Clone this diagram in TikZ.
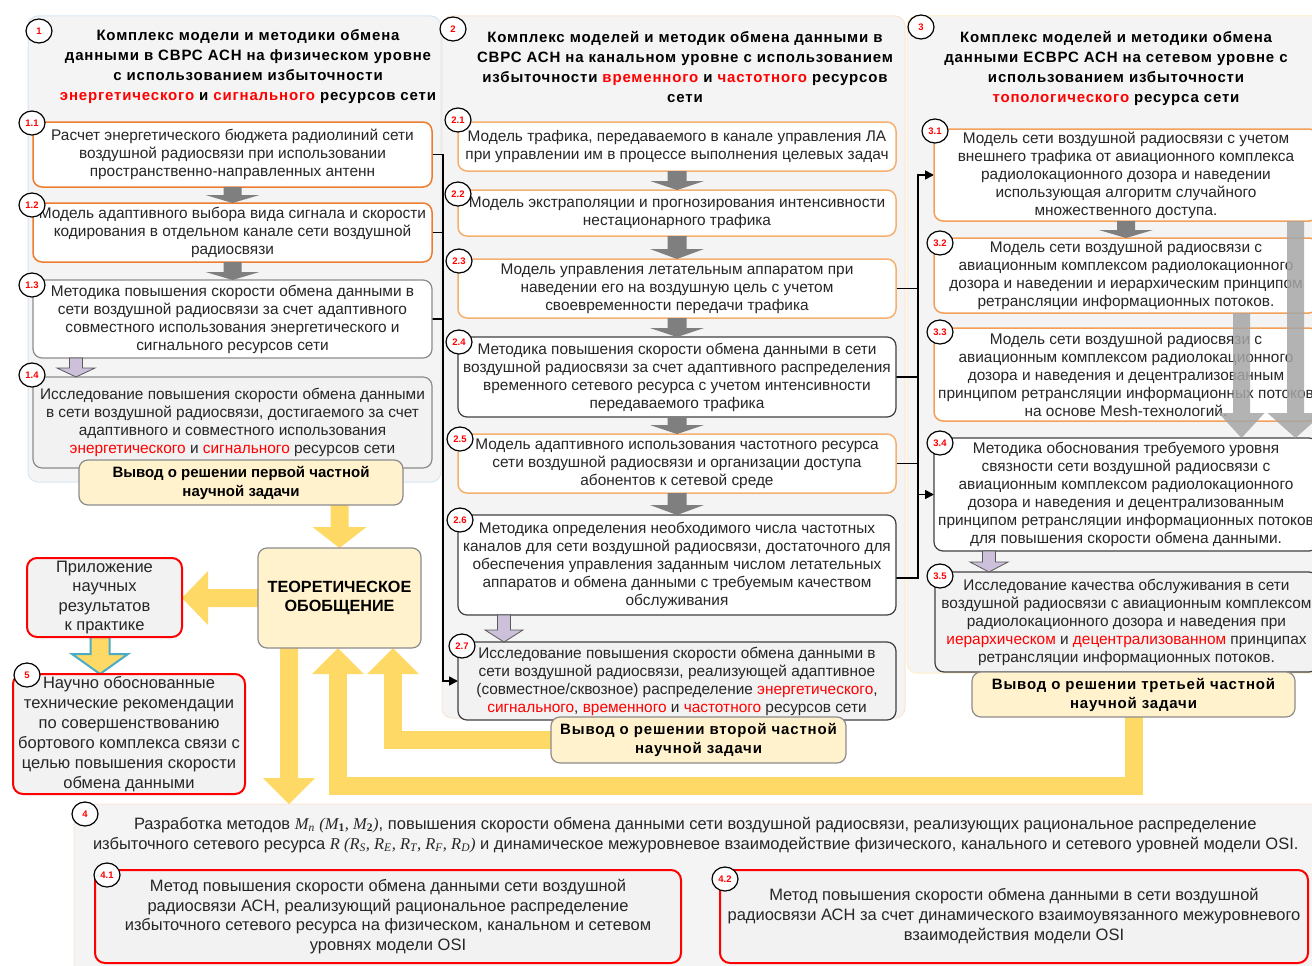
\documentclass[tikz,border=0pt]{standalone}
\usepackage{fontspec}
\setmainfont{Liberation Sans}
\newfontfamily\tnr{Liberation Serif}
\usetikzlibrary{calc,shapes.geometric,arrows.meta}
\pgfdeclarelayer{panels}
\pgfdeclarelayer{links}
\pgfsetlayers{panels,links,main}

\definecolor{txt}{HTML}{262626}
\definecolor{orA}{HTML}{ED7D31}
\definecolor{orB}{HTML}{F5B070}
\definecolor{orC}{HTML}{F2A05A}
\definecolor{greyB}{HTML}{8C8C8C}
\definecolor{darkB}{HTML}{404040}
\definecolor{fillG}{HTML}{F2F2F2}
\definecolor{panelF}{HTML}{F4F4F4}
\definecolor{yelF}{HTML}{FFF2CC}
\definecolor{arrY}{HTML}{FFD966}
\definecolor{arrG}{HTML}{7F7F7F}
\definecolor{lavF}{HTML}{CCC0DA}
\definecolor{lavB}{HTML}{595959}
\definecolor{bigG}{HTML}{A6A6A6}
\definecolor{pBlue}{HTML}{D6E6F2}
\definecolor{pPeach}{HTML}{FBE5D6}
\definecolor{pYel}{HTML}{FFEFC8}
\definecolor{blueO}{HTML}{4BACC6}

\newcommand\redw[1]{\textcolor{red}{#1}}
\newcommand\serit[1]{{\tnr\itshape #1}}
\newcommand\serbf[1]{{\tnr\bfseries #1}}

% downward block arrow: style, start, tip, shaft half-width, head half-width, head length
\newcommand\blockdown[6]{%
  \path[#1] let \p1=(#2), \p2=(#3) in
    ({\x1-#4pt},\y1) -- ({\x1+#4pt},\y1) -- ({\x1+#4pt},{\y2+#6pt})
    -- ({\x1+#5pt},{\y2+#6pt}) -- (\x1,\y2) -- ({\x1-#5pt},{\y2+#6pt})
    -- ({\x1-#4pt},{\y2+#6pt}) -- cycle;}

\begin{document}
\begin{tikzpicture}[x=1pt,y=-1pt,
  every node/.style={inner sep=0pt,outer sep=0pt,text=txt},
  body/.style={font=\fontsize{15.4}{18}\selectfont,align=center},
  big body/.style={font=\fontsize{16.5}{20}\selectfont,align=center},
  panel/.style={draw,fill=panelF,line width=1pt,rounded corners=10pt},
  obox/.style={body,draw=orA,fill=white,line width=1.5pt,rounded corners=9pt},
  obox2/.style={body,draw=orB,fill=white,line width=1.5pt,rounded corners=9pt},
  obox3/.style={body,draw=orC,fill=white,line width=1.5pt,rounded corners=9pt},
  gbox/.style={body,draw=greyB,fill=white,line width=1.2pt,rounded corners=9pt},
  gboxf/.style={body,draw=greyB,fill=fillG,line width=1.2pt,rounded corners=9pt},
  dbox/.style={body,draw=darkB,fill=white,line width=1.2pt,rounded corners=9pt},
  dboxf/.style={body,draw=darkB,fill=fillG,line width=1.2pt,rounded corners=9pt},
  concl/.style={draw=greyB,fill=yelF,line width=1.2pt,rounded corners=9pt,
    font=\bfseries\fontsize{15}{19}\selectfont,align=center,text=black},
  wide concl/.style={concl,font=\bfseries\fontsize{15}{19}\selectfont\addfontfeatures{LetterSpace=5.5}},
  rbox/.style={big body,draw=red,fill=fillG,line width=2pt,rounded corners=10pt},
  title/.style={font=\bfseries\fontsize{15}{20}\selectfont\addfontfeatures{LetterSpace=5.5},
    align=center,text=black},
  badge/.style={ellipse,draw=black,fill=white,line width=1.2pt,minimum width=26pt,
    minimum height=24pt,font=\bfseries\fontsize{9.5}{10}\selectfont,text=red},
  link/.style={draw=black,line width=1.6pt,line cap=rect},
  tipped/.style={link,-{Triangle[length=9pt,width=9pt]}},
  gray arrow/.style={fill=arrG},
  lav arrow/.style={fill=lavF,draw=lavB,line width=0.8pt},
  yel arrow/.style={fill=arrY},
  yel shaft/.style={draw=arrY,line width=18pt,line join=miter},
  big arrow/.style={fill=bigG,fill opacity=0.85}
]
\useasboundingbox (0,0) rectangle (1312,966);
\clip (0,0) rectangle (1312,966);

% ---------- background panels ----------
\begin{pgfonlayer}{panels}
  \fill[white] (0,0) rectangle (1312,966);
  \node[panel,draw=pBlue,minimum width=413,minimum height=466] (p1) at (234.5,249) {};
  \node[panel,draw=pPeach,minimum width=463,minimum height=702] (p2) at (673.5,367) {};
  \node[panel,draw=pYel,minimum width=423,minimum height=657] (p3) at (1118.5,344.5) {};
  \node[panel,draw=pPeach,minimum width=1256,minimum height=181] (p4) at (702,894.5) {};
\end{pgfonlayer}

% ---------- column titles ----------
\node[title] (t1) at (248,67) {Комплекс модели и методики обмена\\данными в СВРС АСН на физическом уровне\\с использованием избыточности\\\redw{энергетического} и \redw{сигнального} ресурсов сети};
\node[title] (t2) at (685,67) {Комплекс моделей и методик обмена данными в\\СВРС АСН на канальном уровне с использованием\\избыточности \redw{временного} и \redw{частотного} ресурсов\\сети};
\node[title] (t3) at (1116,68.5) {Комплекс моделей и методики обмена\\данными ЕСВРС АСН на сетевом уровне с\\использованием избыточности\\\redw{топологического} ресурса сети};

% ---------- column 1: physical layer ----------
\node[obox,minimum width=399,minimum height=65] (b11) at (232.5,154.5) {Расчет энергетического бюджета радиолиний сети\\воздушной радиосвязи при использовании\\пространственно-направленных антенн};
\node[obox,minimum width=399,minimum height=59] (b12) at (232.5,232.5) {Модель адаптивного выбора вида сигнала и скорости\\кодирования в отдельном канале сети воздушной\\радиосвязи};
\node[gbox,minimum width=399,minimum height=78] (b13) at (232.5,319) {Методика повышения скорости обмена данными в\\сети воздушной радиосвязи за счет адаптивного\\совместного использования энергетического и\\сигнального ресурсов сети};
\node[gboxf,minimum width=399,minimum height=91] (b14) at (232.5,422.5) {Исследование повышения скорости обмена данными\\в сети воздушной радиосвязи, достигаемого за счет\\адаптивного и совместного использования\\\redw{энергетического} и \redw{сигнального} ресурсов сети};
\node[concl,minimum width=324,minimum height=45] (out1) at (241,482.5) {Вывод о решении первой частной\\научной задачи};

% ---------- column 2: link layer ----------
\node[obox2,minimum width=438,minimum height=49] (b21) at (677,146.5) {Модель трафика, передаваемого в канале управления ЛА\\при управлении им в процессе выполнения целевых задач};
\node[obox2,minimum width=438,minimum height=46] (b22) at (677,213) {Модель экстраполяции и прогнозирования интенсивности\\нестационарного трафика};
\node[obox2,minimum width=438,minimum height=59] (b23) at (677,288.5) {Модель управления летательным аппаратом при\\наведении его на воздушную цель с учетом\\своевременности передачи трафика};
\node[dbox,minimum width=438,minimum height=80] (b24) at (677,377) {Методика повышения скорости обмена данными в сети\\воздушной радиосвязи за счет адаптивного распределения\\временного сетевого ресурса с учетом интенсивности\\передаваемого трафика};
\node[obox2,minimum width=438,minimum height=59] (b25) at (677,463.5) {Модель адаптивного использования частотного ресурса\\сети воздушной радиосвязи и организации доступа\\абонентов к сетевой среде};
\node[dbox,minimum width=438,minimum height=100] (b26) at (677,565) {Методика определения необходимого числа частотных\\каналов для сети воздушной радиосвязи, достаточного для\\обеспечения управления заданным числом летательных\\аппаратов и обмена данными с требуемым качеством\\обслуживания};
\node[dboxf,minimum width=438,minimum height=78] (b27) at (677,681) {Исследование повышения скорости обмена данными в\\сети воздушной радиосвязи, реализующей адаптивное\\(совместное/сквозное) распределение \redw{энергетического},\\\redw{сигнального}, \redw{временного} и \redw{частотного} ресурсов сети};
\node[wide concl,minimum width=295,minimum height=46] (out2) at (698.5,740) {Вывод о решении второй частной\\научной задачи};

% ---------- column 3: network layer ----------
\node[obox3,minimum width=384,minimum height=92] (b31) at (1126,175) {Модель сети воздушной радиосвязи с учетом\\внешнего трафика от авиационного комплекса\\радиолокационного дозора и наведении\\использующая алгоритм случайного\\множественного доступа.};
\node[obox3,minimum width=384,minimum height=75] (b32) at (1126,275.5) {Модель сети воздушной радиосвязи с\\авиационным комплексом радиолокационного\\дозора и наведении и иерархическим принципом\\ретрансляции информационных потоков.};
\node[obox3,minimum width=384,minimum height=93] (b33) at (1126,374.5) {Модель сети воздушной радиосвязи с\\авиационным комплексом радиолокационного\\дозора и наведения и децентрализованным\\принципом ретрансляции информационных потоков\\на основе Mesh-технологий.};
\node[dbox,minimum width=384,minimum height=113] (b34) at (1126,494.5) {Методика обоснования требуемого уровня\\связности сети воздушной радиосвязи с\\авиационным комплексом радиолокационного\\дозора и наведения и децентрализованным\\принципом ретрансляции информационных потоков\\для повышения скорости обмена данными.};
\node[dboxf,minimum width=383,minimum height=100] (b35) at (1126.5,622) {Исследование качества обслуживания в сети\\воздушной радиосвязи с авиационным комплексом\\радиолокационного дозора и наведения при\\\redw{иерархическом} и \redw{децентрализованном} принципах\\ретрансляции информационных потоков.};
\node[wide concl,minimum width=323,minimum height=45] (out3) at (1133.5,694.5) {Вывод о решении третьей частной\\научной задачи};

% ---------- generalisation and practice ----------
\node[concl,minimum width=163,minimum height=100,font=\bfseries\fontsize{16.2}{19}\selectfont] (teo) at (339.5,598) {ТЕОРЕТИЧЕСКОЕ\\ОБОБЩЕНИЕ};
\node[rbox,minimum width=155,minimum height=79,font=\fontsize{16.5}{19.5}\selectfont] (pril) at (104.5,597.5) {Приложение\\научных\\результатов\\к практике};
\node[rbox,minimum width=232,minimum height=120] (b5) at (129,734) {Научно обоснованные\\технические рекомендации\\по совершенствованию\\бортового комплекса связи с\\целью повышения скорости\\обмена данными};

% ---------- methods panel ----------
\node[big body,anchor=west] (m1) at (134,825) {Разработка методов \serit{M}\textsubscript{\serit{n}} \serit{(M}\textsubscript{\serbf{1}}\serit{, M}\textsubscript{\serbf{2}}\serit{)}, повышения скорости обмена данными сети воздушной радиосвязи, реализующих рациональное распределение};
\node[big body,anchor=west] (m2) at (93,845) {избыточного сетевого ресурса \serit{R (R}\textsubscript{\serit{S}}\serit{, R}\textsubscript{\serit{E}}\serit{, R}\textsubscript{\serit{T}}\serit{, R}\textsubscript{\serit{F}}\serit{, R}\textsubscript{\serit{D}}\serit{)} и динамическое межуровневое взаимодействие физического, канального и сетевого уровней модели OSI.};
\node[rbox,minimum width=586,minimum height=93,font=\fontsize{16.5}{19.7}\selectfont] (b41) at (388,916.5) {Метод повышения скорости обмена данными сети воздушной\\радиосвязи АСН, реализующий рациональное распределение\\избыточного сетевого ресурса на физическом, канальном и сетевом\\уровнях модели OSI};
\node[rbox,minimum width=588,minimum height=93] (b42) at (1014,916.5) {Метод повышения скорости обмена данными в сети воздушной\\радиосвязи АСН за счет динамического взаимоувязанного межуровневого\\взаимодействия модели OSI};

% ---------- helper columns for arrows ----------
\coordinate (busA) at (443,0);
\coordinate (busB) at (918,0);
\coordinate (lavA) at (76,0);
\coordinate (lavB) at (504,0);
\coordinate (lavC) at (989,0);
\coordinate (dx) at (289,0);
\coordinate (cx) at (100,0);
\coordinate (ex) at (393,0);
\coordinate (fx) at (338,0);
\coordinate (fy) at (0,786);
\coordinate (gL) at (1241.5,0);
\coordinate (gR) at (1295.5,0);
\coordinate (s26) at ($(b26.east)+(0,13)$);

% ---------- connectors (behind the boxes) ----------
\begin{pgfonlayer}{links}
  % yellow flows
  \blockdown{yel arrow}{teo.north |- out1.south}{teo.north}{9}{27}{21}
  \path[yel arrow] let \p1=(teo.west), \p2=(pril.east) in
    (\x1,{\y1+9pt}) -- ({\x2+26pt},{\y1+9pt}) -- ({\x2+26pt},{\y1+27pt}) -- (\x2,\y1)
    -- ({\x2+26pt},{\y1-27pt}) -- ({\x2+26pt},{\y1-9pt}) -- (\x1,{\y1-9pt}) -- cycle;
  \blockdown{yel arrow,draw=blueO,line width=2pt}{cx |- pril.south}{cx |- b5.north}{9.5}{28}{20}
  \blockdown{yel arrow}{dx |- teo.south}{dx |- p4.north}{9}{26}{26}
  \draw[yel shaft] (out2.west) -| ($(ex |- teo.south)+(0,26)$);
  \fill[arrY] ($(ex |- teo.south)+(-26,26)$) -- (ex |- teo.south) -- ($(ex |- teo.south)+(26,26)$) -- cycle;
  \draw[yel shaft] (out3.south) -- (out3.south |- fy) -| ($(fx |- teo.south)+(0,26)$);
  \fill[arrY] ($(fx |- teo.south)+(-26,26)$) -- (fx |- teo.south) -- ($(fx |- teo.south)+(26,26)$) -- cycle;
  % bus from column 1 to item 2.7
  \draw[link] (b11.east) -- (b11.east -| busA);
  \draw[link] (b12.east) -- (b12.east -| busA);
  \draw[link] (b13.east) -- (b13.east -| busA);
  \draw[tipped] (b11.east -| busA) |- (b27.west);
  % bus from column 2 to items 3.1 and 3.4
  \draw[link] (b23.east) -- (b23.east -| busB);
  \draw[link] (b24.east) -- (b24.east -| busB);
  \draw[link] (b25.east) -- (b25.east -| busB);
  \draw[link] (s26 -| b26.east) -- (s26 -| busB);
  \draw[tipped] (s26 -| busB) |- (b31.west);
  \draw[tipped] (busB |- b34.west) -- (b34.west);
\end{pgfonlayer}

% ---------- step arrows inside the columns ----------
\blockdown{gray arrow}{b11.south}{b12.north}{9}{27}{8}
\blockdown{gray arrow}{b12.south}{b13.north}{9}{27}{8}
\blockdown{lav arrow}{lavA |- b13.south}{lavA |- b14.north}{6.5}{19}{9}
\blockdown{gray arrow}{b21.south}{b22.north}{9.5}{27}{9}
\blockdown{gray arrow}{b22.south}{b23.north}{9.5}{27}{10}
\blockdown{gray arrow}{b23.south}{b24.north}{9.5}{27}{9}
\blockdown{gray arrow}{b24.south}{b25.north}{9.5}{27}{9}
\blockdown{gray arrow}{b25.south}{b26.north}{9.5}{27}{10}
\blockdown{lav arrow}{lavB |- b26.south}{lavB |- b27.north}{6.5}{19}{12}
\blockdown{gray arrow}{b31.south}{b32.north}{9}{27}{8}
\blockdown{lav arrow}{lavC |- b34.south}{lavC |- b35.north}{6.5}{19}{10}

% ---------- number badges ----------
\node[badge] (n1)  at (39,31)   {1};
\node[badge] (n11) at (32,123)  {1.1};
\node[badge] (n12) at (32,205)  {1.2};
\node[badge] (n13) at (32,285)  {1.3};
\node[badge] (n14) at (32,375)  {1.4};
\node[badge] (n2)  at (453,29)  {2};
\node[badge] (n21) at (458,120) {2.1};
\node[badge] (n22) at (458,194) {2.2};
\node[badge] (n23) at (459,261) {2.3};
\node[badge] (n24) at (459,342) {2.4};
\node[badge] (n25) at (460,439) {2.5};
\node[badge] (n26) at (460,520) {2.6};
\node[badge] (n27) at (462,646) {2.7};
\node[badge] (n3)  at (921,27)  {3};
\node[badge] (n31) at (935,131) {3.1};
\node[badge] (n32) at (940,243) {3.2};
\node[badge] (n33) at (940,332) {3.3};
\node[badge] (n34) at (940,443) {3.4};
\node[badge] (n35) at (940,576) {3.5};
\node[badge] (n4)  at (85,814)  {4};
\node[badge] (n41) at (107,875) {4.1};
\node[badge] (n42) at (725,879) {4.2};
\node[badge] (n5)  at (27,675)  {5};

% ---------- wide arrows over column 3 ----------
\blockdown{big arrow}{gR |- b31.south}{gR |- b34.north}{8.5}{28}{25}
\blockdown{big arrow}{gL |- b32.south}{gL |- b34.north}{8.5}{23}{25}
\end{tikzpicture}
\end{document}
